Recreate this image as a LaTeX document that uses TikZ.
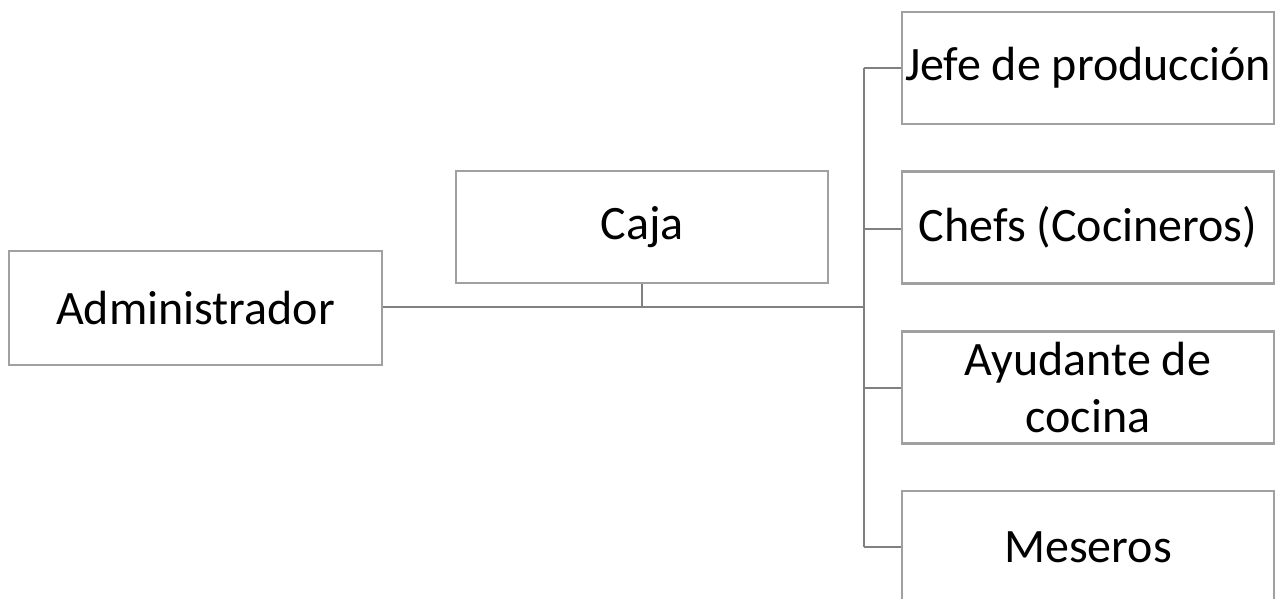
\documentclass[tikz,border=0pt]{standalone}
\usepackage{fontspec}
\setmainfont{Carlito}
\definecolor{boxline}{HTML}{A0A0A0}
\definecolor{linkline}{HTML}{808080}
\begin{document}
\begin{tikzpicture}[x=1pt,y=-1pt,
  unit/.style={draw=boxline, line width=2.4pt, fill=white, inner sep=0pt,
    minimum width=372pt, minimum height=112pt, align=center,
    font=\fontsize{48}{57}\selectfont},
  link/.style={draw=linkline, line width=2.4pt}]
\path[use as bounding box, clip] (0,0) rectangle (1285,599);
\fill[white] (0,0) rectangle (1285,599);

\node[unit, minimum width=373pt, minimum height=114pt] (adm) at (195.5,308) {Administrador};
\node[unit] (caja) at (642,227) {Caja};
\node[unit] (jefe) at (1088,68) {Jefe de producción};
\node[unit] (chefs) at (1088,227.5) {Chefs (Cocineros)};
\node[unit] (ayud) at (1088,387.5) {Ayudante de\\cocina};
\node[unit] (mes) at (1088,547) {Meseros};

\coordinate (hub) at (864,307);
\coordinate (top) at (864,68);
\coordinate (bot) at (864,547);

\draw[link] (adm.east |- hub) -- (hub);
\draw[link] (caja.south) -- (caja.south |- hub);
\draw[link] (top) -- (bot);
\draw[link] (top) -- (jefe.west |- top);
\draw[link] (864,229) -- (chefs.west |- 0,229);
\draw[link] (864,388) -- (ayud.west |- 0,388);
\draw[link] (bot) -- (mes.west |- bot);
\end{tikzpicture}
\end{document}
